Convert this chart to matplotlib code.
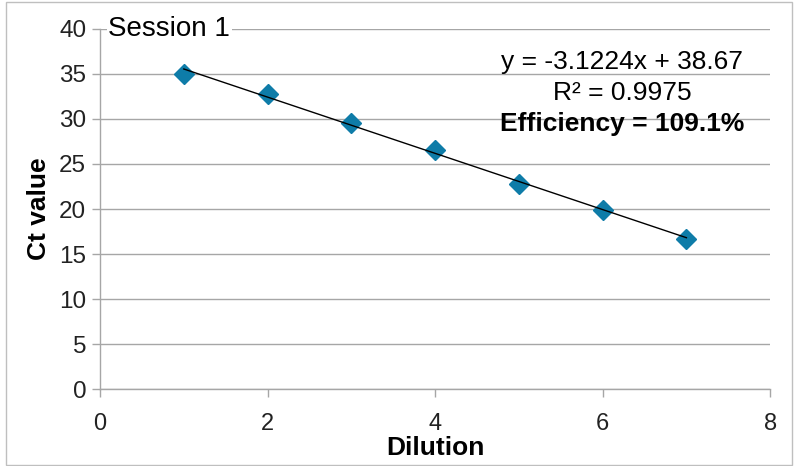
import numpy as np
import matplotlib.pyplot as plt
from matplotlib.patches import Rectangle

plt.rcParams['font.family'] = ['Liberation Sans', 'DejaVu Sans']

# data
dilution = [1, 2, 3, 4, 5, 6, 7]
ct_value = [35.0, 32.8, 29.5, 26.5, 22.8, 19.9, 16.7]
slope, intercept = -3.1224, 38.67
r_squared = 0.9975
efficiency = 109.1

grid_col = '#a6a6a6'

fig = plt.figure(figsize=(7.94, 4.66), dpi=100)
ax = fig.add_axes([0.126, 0.165, 0.844, 0.773])

# trend line
xs = np.array([dilution[0], dilution[-1]])
ax.plot(xs, slope * xs + intercept, color='black', lw=1.0, zorder=3)
ax.plot(dilution, ct_value, 'D', color='#0e7ca8', ms=10, mec='#0e7ca8', zorder=2)

ax.set_xlim(0, 8)
ax.set_ylim(0, 40)
ax.set_xticks(range(0, 9, 2))
ax.set_yticks(range(0, 41, 5))
ax.grid(axis='y', color=grid_col, lw=1.0)
ax.set_axisbelow(True)
for s in ['top', 'right']:
    ax.spines[s].set_visible(False)
for s in ['left', 'bottom']:
    ax.spines[s].set_color(grid_col)
    ax.spines[s].set_linewidth(1.0)
ax.tick_params(colors=grid_col, labelcolor='#222222', length=6, width=1.0)
ax.tick_params(axis='y', labelsize=17.5, pad=4)
ax.tick_params(axis='x', labelsize=17, pad=11)

ax.set_xlabel('Dilution', fontsize=19, fontweight='bold', labelpad=1)
ax.set_ylabel('Ct value', fontsize=19, fontweight='bold', labelpad=6)

ax.text(0.1, 40, 'Session 1', fontsize=20, va='center', ha='left',
        bbox=dict(facecolor='white', edgecolor='none', pad=1), zorder=4)

ax.text(6.23, 36.3, 'y = %.4fx + %.2f' % (slope, intercept), fontsize=19, ha='center', va='center')
ax.text(6.23, 32.9, 'R² = %.4f' % r_squared, fontsize=19, ha='center', va='center')
ax.text(6.23, 29.4, 'Efficiency = %.1f%%' % efficiency, fontsize=19, fontweight='bold',
        ha='center', va='center')

fig.patches.append(Rectangle((0.008, 0.002), 0.99, 0.994, transform=fig.transFigure,
                             fill=False, edgecolor='#bfbfbf', lw=1.0))

fig.savefig('out.png', dpi=100)
